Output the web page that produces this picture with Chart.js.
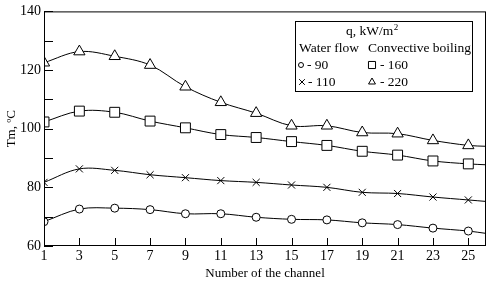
<!DOCTYPE html>
<html>
<head>
<meta charset="utf-8">
<script src="https://cdn.jsdelivr.net/npm/chart.js@4.4.1/dist/chart.umd.min.js"></script>
<style>
  html, body { margin: 0; padding: 0; background: #fff; }
  #wrap { width: 494px; height: 282px; position: relative; }
</style>
</head>
<body>
<div id="wrap"><canvas id="c" width="494" height="282"></canvas></div>
<script>
// channel numbers (last one is just where the curve leaves the frame)
const channels = [1, 3, 5, 7, 9, 11, 13, 15, 17, 19, 21, 23, 25, 26];
const tickChannels = [1, 3, 5, 7, 9, 11, 13, 15, 17, 19, 21, 23, 25];
// Tm, oC for each heat flux q, kW/m2
const q90  = [68.3, 72.6, 72.9, 72.4, 71.0, 71.0, 69.8, 69.1, 68.9, 67.9, 67.3, 66.1, 65.1, 64.3];
const q110 = [81.7, 86.3, 85.8, 84.3, 83.3, 82.3, 81.7, 80.8, 80.0, 78.3, 77.9, 76.7, 75.7, 75.2];
const q160 = [102.3, 106.0, 105.6, 102.6, 100.3, 98.0, 97.0, 95.6, 94.3, 92.3, 91.0, 89.0, 88.0, 87.7];
const q220 = [122.5, 126.3, 124.7, 121.7, 114.3, 109.0, 105.3, 101.0, 101.0, 98.7, 98.3, 96.0, 94.3, 94.0];

const serif = '"Liberation Serif", "DejaVu Serif", serif';

function serie(label, vals, style, r) {
  return {
    label: label,
    data: channels.map((x, i) => ({ x: x, y: vals[i] })),
    borderColor: '#000',
    borderWidth: 1,
    backgroundColor: '#fff',
    pointBackgroundColor: '#fff',
    pointBorderColor: '#000',
    pointBorderWidth: 1,
    pointStyle: style,
    pointRadius: ctx => ctx.dataIndex === channels.length - 1 ? 0 : r,
    tension: 0.35,
    fill: false
  };
}

// ticks inside the frame + box
const frame = {
  id: 'frame',
  afterDatasetsDraw(chart) {
    const c = chart.ctx, a = chart.chartArea;
    const xs = chart.scales.x, ys = chart.scales.y;
    c.save();
    c.strokeStyle = '#000';
    c.lineWidth = 1;
    c.strokeRect(a.left + 0.5, a.top + 0.5, a.right - a.left - 1, a.bottom - a.top - 1);
    c.beginPath();
    ys.ticks.forEach(t => {
      const y = Math.round(ys.getPixelForValue(t.value)) + 0.5;
      c.moveTo(a.left, y); c.lineTo(a.left + 9, y);
    });
    xs.ticks.forEach(t => {
      const x = Math.round(xs.getPixelForValue(t.value)) + 0.5;
      c.moveTo(x, a.bottom); c.lineTo(x, a.bottom - 8);
    });
    c.stroke();
    c.restore();
  }
};

const legendBox = {
  id: 'legendBox',
  afterDraw(chart) {
    const c = chart.ctx;
    c.save();
    c.fillStyle = '#fff';
    c.fillRect(296, 21, 176, 70);
    c.strokeStyle = '#000';
    c.lineWidth = 1;
    c.strokeRect(295.5, 21.5, 177, 70);
    c.fillStyle = '#000';
    c.textBaseline = 'alphabetic';
    c.font = '13.5px ' + serif;
    const head = 'q, kW/m';
    c.fillText(head, 346, 35);
    const w = c.measureText(head).width;
    c.font = '9px ' + serif;
    c.fillText('2', 346 + w + 0.5, 30);
    c.font = '13.5px ' + serif;
    c.fillText('Water flow', 299, 52);
    c.fillText('Convective boiling', 368, 52);
    c.fillText('- 90', 307, 69);
    c.fillText('- 160', 380, 69);
    c.fillText('- 110', 308, 86);
    c.fillText('- 220', 380, 86);
    const opt = { borderWidth: 1, radius: 3 };
    c.strokeStyle = '#000';
    c.fillStyle = '#fff';
    Chart.helpers.drawPoint(c, { ...opt, pointStyle: 'circle', radius: 2.5 }, 301, 65);
    Chart.helpers.drawPoint(c, { ...opt, pointStyle: 'rect', radius: 5 }, 372, 65);
    Chart.helpers.drawPoint(c, { ...opt, pointStyle: 'crossRot', radius: 4 }, 302, 82);
    Chart.helpers.drawPoint(c, { ...opt, pointStyle: 'triangle', radius: 4 }, 372, 82);
    c.restore();
  }
};

new Chart(document.getElementById('c'), {
  type: 'line',
  data: {
    datasets: [
      serie('90', q90, 'circle', 4),
      serie('110', q110, 'crossRot', 5),
      serie('160', q160, 'rect', 7),
      serie('220', q220, 'triangle', 6.5)
    ]
  },
  options: {
    responsive: false,
    animation: false,
    layout: { padding: { top: 6, right: 6, left: 0, bottom: 0 } },
    plugins: { legend: { display: false }, tooltip: { enabled: false } },
    scales: {
      x: {
        type: 'linear',
        min: 1, max: 26,
        afterBuildTicks: s => { s.ticks = tickChannels.map(v => ({ value: v })); },
        afterFit: s => { s.height = 36; },
        grid: { display: false, drawTicks: false },
        border: { display: false },
        ticks: { color: '#000', font: { family: serif, size: 14 }, padding: 2, maxRotation: 0, autoSkip: false },
        title: { display: true, text: 'Number of the channel', color: '#000', font: { family: serif, size: 13 }, padding: { top: 0, bottom: 1 } }
      },
      y: {
        min: 60, max: 140,
        afterFit: s => { s.width = 44; },
        grid: { display: false, drawTicks: false },
        border: { display: false },
        ticks: {
          stepSize: 10,
          color: '#000',
          font: { family: serif, size: 14 },
          padding: 3,
          callback: v => (v % 20 === 0 ? v : '')
        },
        title: { display: true, text: 'Tm, ºC', color: '#000', font: { family: serif, size: 13 }, padding: { top: 4, bottom: 0 } }
      }
    }
  },
  plugins: [frame, legendBox]
});
</script>
</body>
</html>
